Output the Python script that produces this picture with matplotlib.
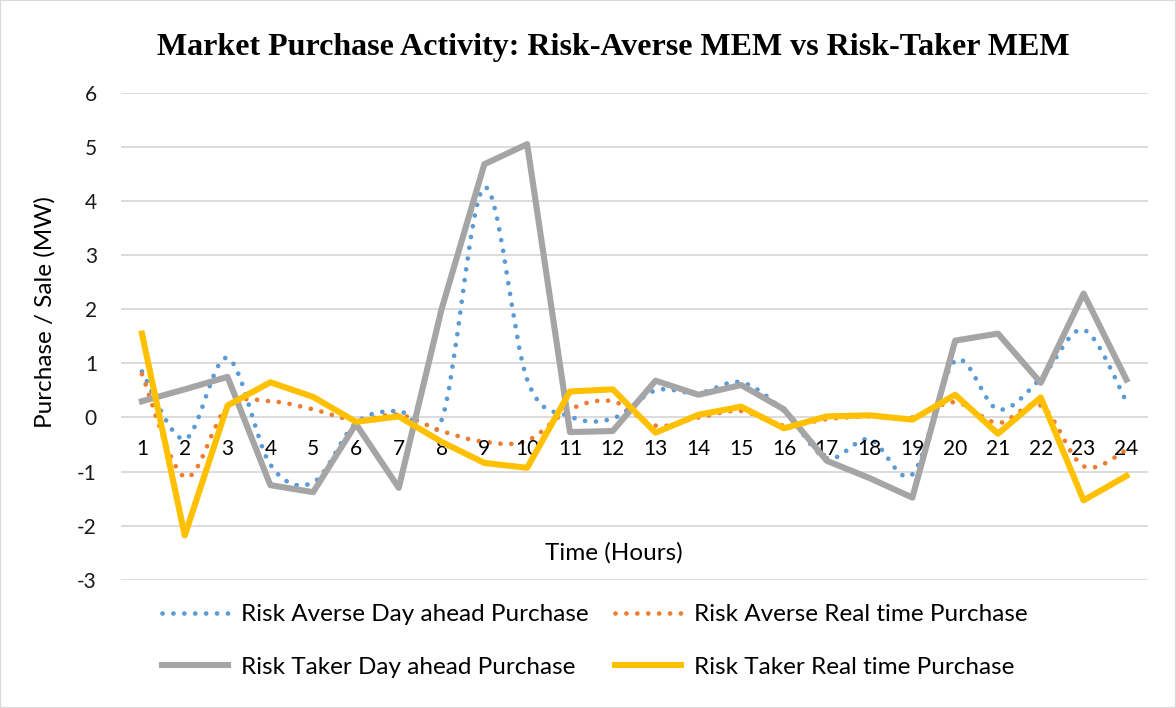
import numpy as np
import matplotlib.pyplot as plt
from matplotlib.path import Path
from matplotlib.patches import PathPatch, Rectangle
from matplotlib.lines import Line2D

hours = list(range(1, 25))
ra_day_ahead = [0.85, -0.4, 1.1, -0.87, -1.2, -0.1, 0.12, -0.05, 4.25, 0.7, 0.02, -0.02,
                0.5, 0.45, 0.65, 0.12, -0.75, -0.4, -1.05, 1.05, 0.15, 0.72, 1.62, 0.3]
ra_real_time = [0.8, -1.1, 0.2, 0.3, 0.15, -0.05, 0.05, -0.25, -0.45, -0.43, 0.15, 0.3,
                -0.15, 0.0, 0.12, -0.15, -0.03, 0.02, 0.0, 0.28, -0.1, 0.22, -0.9, -0.6]
rt_day_ahead = [0.3, 0.52, 0.75, -1.25, -1.38, -0.12, -1.3, 2.0, 4.68, 5.05, -0.27, -0.25,
                0.68, 0.42, 0.6, 0.15, -0.8, -1.12, -1.48, 1.42, 1.55, 0.64, 2.29, 0.7]
rt_real_time = [1.55, -2.18, 0.22, 0.65, 0.38, -0.08, 0.02, -0.45, -0.84, -0.93, 0.48, 0.52,
                -0.28, 0.05, 0.2, -0.2, 0.02, 0.04, -0.04, 0.42, -0.3, 0.37, -1.53, -1.08]

labels = ["Risk Averse Day ahead Purchase", "Risk Averse Real time Purchase",
          "Risk Taker Day ahead Purchase", "Risk Taker Real time Purchase"]
colors = ["#5b9bd5", "#ed7d31", "#a5a5a5", "#ffc000"]

plt.rcParams['font.family'] = ['Lato', 'DejaVu Sans']
plt.rcParams['axes.unicode_minus'] = False


def smooth_path(x, y):
    # Excel-style smoothed line: cubic bezier through every point
    p = np.column_stack([x, y]).astype(float)
    verts = [p[0]]
    codes = [Path.MOVETO]
    n = len(p)
    for i in range(n - 1):
        p0 = p[i - 1] if i > 0 else p[i]
        p3 = p[i + 2] if i + 2 < n else p[i + 1]
        c1 = p[i] + (p[i + 1] - p0) / 6
        c2 = p[i + 1] - (p3 - p[i]) / 6
        verts += [c1, c2, p[i + 1]]
        codes += [Path.CURVE4] * 3
    return Path(verts, codes)


fig = plt.figure(figsize=(11.76, 7.08), dpi=100)
ax = fig.add_axes([0.1025, 0.181, 0.8735, 0.688])

dot_lw = 3.4
dot_style = (0, (0.01, 2.3))
solid_lw = 4.4
for ys, c in zip([ra_day_ahead, ra_real_time], colors[:2]):
    ax.add_patch(PathPatch(smooth_path(hours, ys), fill=False, edgecolor=c, lw=dot_lw,
                           linestyle=dot_style, capstyle='round', zorder=3))
ax.plot(hours, rt_day_ahead, color=colors[2], lw=solid_lw, solid_joinstyle='round', zorder=4)
ax.plot(hours, rt_real_time, color=colors[3], lw=solid_lw, solid_joinstyle='round', zorder=5)

ax.set_xlim(0.5, 24.5)
ax.set_ylim(-3, 6)
ax.set_yticks(range(-3, 7))
ax.grid(axis='y', color='#d9d9d9', lw=1.3)
ax.set_axisbelow(True)
for s in ax.spines.values():
    s.set_visible(False)
ax.tick_params(axis='y', length=0, labelsize=15, labelcolor='#1a1a1a', pad=17)
ax.set_xticks([])

for h in hours:
    ax.annotate(str(h), (h, 0), xytext=(0, -22.5), textcoords='offset points',
                ha='center', va='center', fontsize=15, color='black')

fig.text(45 / 1176, 1 - 312 / 708, "Purchase / Sale (MW)", rotation=90,
         ha='center', va='center', fontsize=17.5)
fig.text(614 / 1176, 1 - 553 / 708, "Time (Hours)", ha='center', va='center', fontsize=17.5)
fig.text(613 / 1176, 1 - 47 / 708, "Market Purchase Activity: Risk-Averse MEM vs Risk-Taker MEM",
         ha='center', va='center', fontsize=23, fontweight='bold', family='Liberation Serif')

handles = [
    Line2D([], [], color=colors[0], lw=dot_lw, linestyle=dot_style, dash_capstyle='round'),
    Line2D([], [], color=colors[1], lw=dot_lw, linestyle=dot_style, dash_capstyle='round'),
    Line2D([], [], color=colors[2], lw=solid_lw),
    Line2D([], [], color=colors[3], lw=solid_lw),
]
# row-major order like the original legend
order = [0, 2, 1, 3]
fig.legend([handles[i] for i in order], [labels[i] for i in order], ncol=2, loc='center',
           bbox_to_anchor=(595 / 1176, 1 - 641 / 708), frameon=False, fontsize=17.5,
           handlelength=2.7, handletextpad=0.55, columnspacing=1.1, labelspacing=1.3)

fig.add_artist(Rectangle((0, 0), 1, 1, transform=fig.transFigure, fill=False,
                         edgecolor='#d9d9d9', lw=1.5))

fig.savefig("out.png", dpi=100)
